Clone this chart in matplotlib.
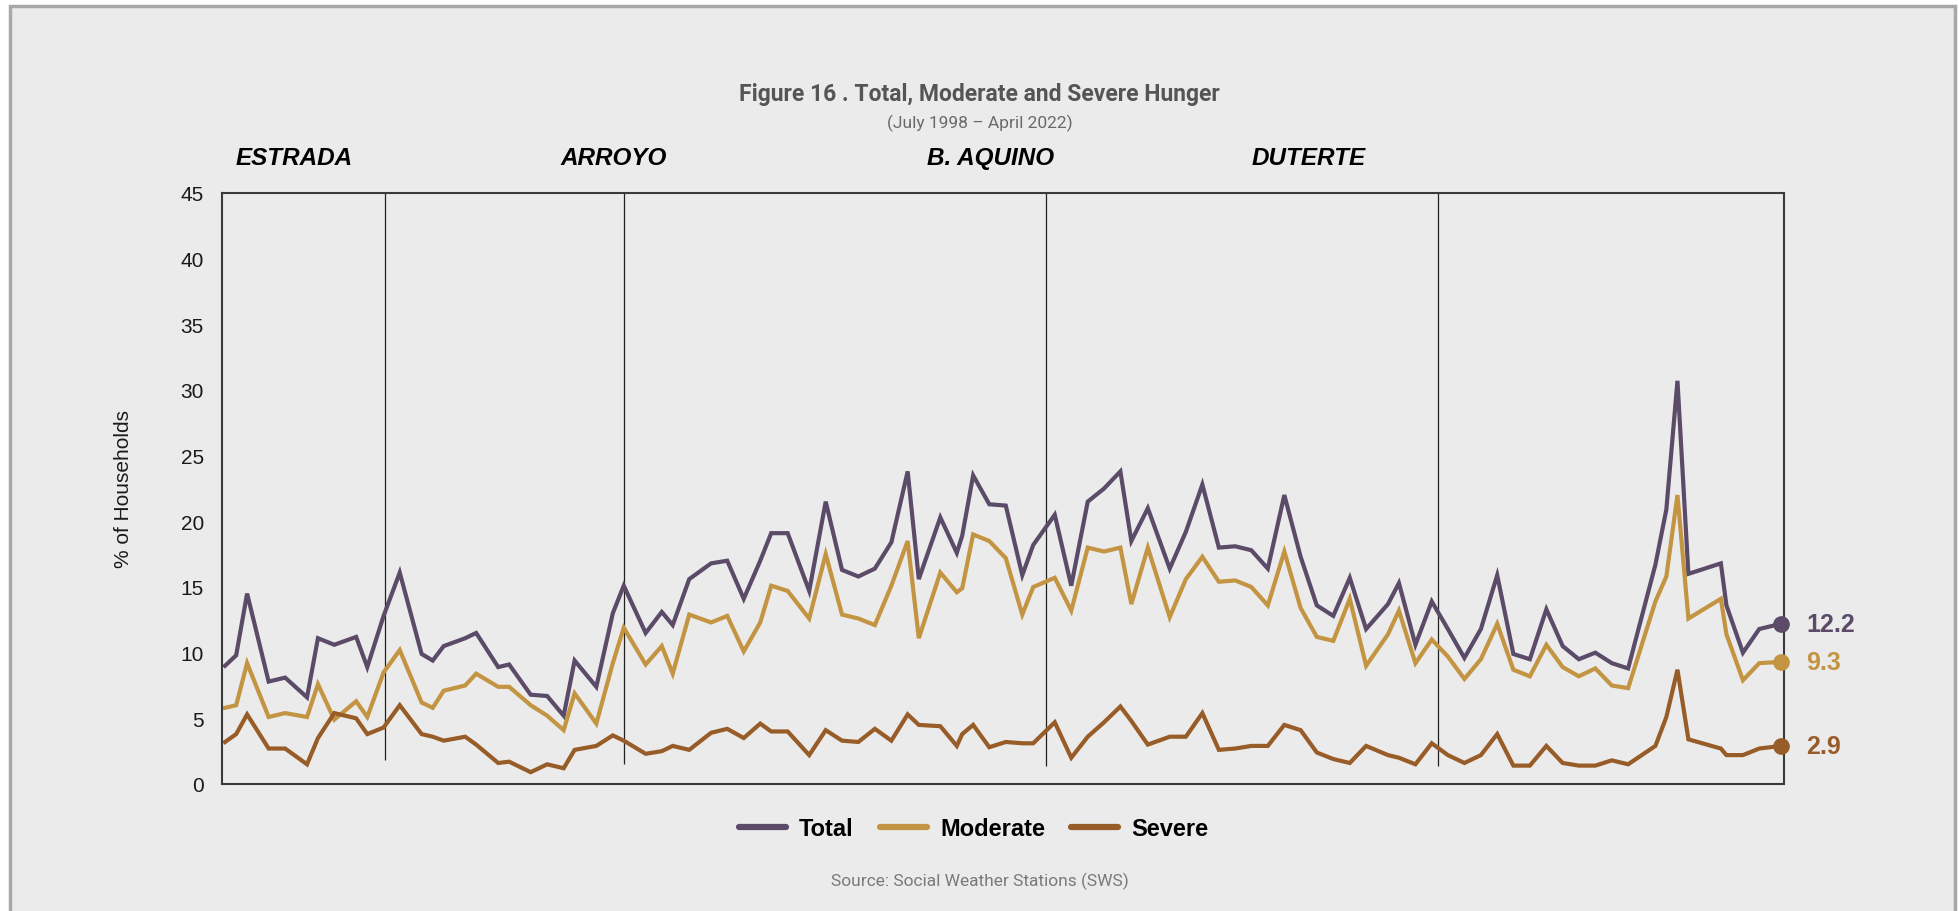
import matplotlib
matplotlib.use('Agg')
import matplotlib.pyplot as plt
from matplotlib.patches import Rectangle
import pandas as pd

# survey months (SWS)
dates = ['1998-07', '1998-09', '1998-11',
         '1999-03', '1999-06', '1999-10', '1999-12',
         '2000-03', '2000-07', '2000-09', '2000-12',
         '2001-03', '2001-07', '2001-09', '2001-11',
         '2002-03', '2002-05', '2002-09', '2002-11',
         '2003-03', '2003-06', '2003-09', '2003-11',
         '2004-03', '2004-06', '2004-08', '2004-12',
         '2005-03', '2005-05', '2005-08', '2005-12',
         '2006-03', '2006-06', '2006-09', '2006-11',
         '2007-02', '2007-06', '2007-09', '2007-12',
         '2008-03', '2008-06', '2008-09', '2008-12',
         '2009-02', '2009-06', '2009-09', '2009-10', '2009-12',
         '2010-03', '2010-06', '2010-09', '2010-11',
         '2011-03', '2011-06', '2011-09', '2011-12',
         '2012-03', '2012-05', '2012-08', '2012-12',
         '2013-03', '2013-06', '2013-09', '2013-12',
         '2014-03', '2014-06', '2014-09', '2014-12',
         '2015-03', '2015-06', '2015-09', '2015-12',
         '2016-04', '2016-06', '2016-09', '2016-12',
         '2017-03', '2017-06', '2017-09', '2017-12',
         '2018-03', '2018-06', '2018-09', '2018-12',
         '2019-03', '2019-06', '2019-09', '2019-12',
         '2020-05', '2020-07', '2020-09', '2020-11',
         '2021-05', '2021-06', '2021-09', '2021-12',
         '2022-04']

total = [9.0, 9.8, 14.5,
         7.8, 8.1, 6.6, 11.1,
         10.6, 11.2, 8.9, 12.8,
         16.1, 9.9, 9.4, 10.5,
         11.1, 11.5, 8.9, 9.1,
         6.8, 6.7, 5.2, 9.4,
         7.4, 13.0, 15.1, 11.5,
         13.1, 12.1, 15.6, 16.8,
         17.0, 14.1, 17.0, 19.1,
         19.1, 14.7, 21.5, 16.3,
         15.8, 16.4, 18.4, 23.8,
         15.6, 20.3, 17.6, 18.9, 23.5,
         21.3, 21.2, 15.9, 18.2,
         20.5, 15.1, 21.5, 22.5,
         23.8, 18.5, 21.0, 16.4,
         19.2, 22.8, 18.0, 18.1,
         17.8, 16.4, 22.0, 17.3,
         13.6, 12.8, 15.7, 11.8,
         13.7, 15.3, 10.6, 13.9,
         11.8, 9.6, 11.8, 15.9,
         9.9, 9.5, 13.3, 10.5,
         9.5, 10.0, 9.2, 8.8,
         16.7, 20.9, 30.7, 16.0,
         16.8, 13.6, 10.0, 11.8,
         12.2]

moderate = [5.8, 6.0, 9.2,
            5.1, 5.4, 5.1, 7.6,
            4.9, 6.3, 5.1, 8.5,
            10.2, 6.2, 5.8, 7.1,
            7.5, 8.4, 7.4, 7.4,
            6.0, 5.2, 4.1, 6.9,
            4.6, 9.2, 11.9, 9.1,
            10.5, 8.4, 12.9, 12.3,
            12.8, 10.1, 12.3, 15.1,
            14.7, 12.6, 17.5, 12.9,
            12.6, 12.1, 15.1, 18.5,
            11.1, 16.1, 14.6, 14.9, 19.0,
            18.5, 17.2, 12.9, 15.0,
            15.7, 13.2, 18.0, 17.7,
            18.0, 13.7, 18.0, 12.7,
            15.6, 17.3, 15.4, 15.5,
            15.0, 13.6, 17.7, 13.4,
            11.2, 10.9, 14.1, 9.0,
            11.4, 13.2, 9.2, 11.0,
            9.7, 8.0, 9.5, 12.2,
            8.7, 8.2, 10.6, 8.9,
            8.2, 8.8, 7.5, 7.3,
            13.9, 15.8, 22.0, 12.6,
            14.1, 11.4, 7.9, 9.2,
            9.3]

severe = [3.2, 3.8, 5.3,
          2.7, 2.7, 1.5, 3.5,
          5.4, 5.0, 3.8, 4.3,
          6.0, 3.8, 3.6, 3.3,
          3.6, 3.0, 1.6, 1.7,
          0.9, 1.5, 1.2, 2.6,
          2.9, 3.7, 3.3, 2.3,
          2.5, 2.9, 2.6, 3.9,
          4.2, 3.5, 4.6, 4.0,
          4.0, 2.2, 4.1, 3.3,
          3.2, 4.2, 3.3, 5.3,
          4.5, 4.4, 2.9, 3.8, 4.5,
          2.8, 3.2, 3.1, 3.1,
          4.7, 2.0, 3.6, 4.7,
          5.9, 4.8, 3.0, 3.6,
          3.6, 5.4, 2.6, 2.7,
          2.9, 2.9, 4.5, 4.1,
          2.4, 1.9, 1.6, 2.9,
          2.2, 2.0, 1.5, 3.1,
          2.2, 1.6, 2.2, 3.8,
          1.4, 1.4, 2.9, 1.6,
          1.4, 1.4, 1.8, 1.5,
          2.9, 5.1, 8.7, 3.4,
          2.7, 2.2, 2.2, 2.7,
          2.9]

# administration boundaries as drawn, and the labels above the plot
term_lines = ['2000-12-10', '2004-08-02', '2011-01-13', '2017-01-05']
term_line_bottom = [1.8, 1.5, 1.4, 1.4]
presidents = ['ESTRADA', 'ARROYO', 'B. AQUINO', 'DUTERTE']
president_x = [0.120, 0.286, 0.473, 0.639]

c_total = '#5b4b69'
c_mod = '#c39442'
c_sev = '#975c27'
bg = '#ebebeb'
helv = ['Liberation Sans', 'DejaVu Sans']
narrow = ['Roboto', 'Liberation Sans', 'DejaVu Sans']

x = pd.to_datetime(dates)

W, H = 1959, 912
fig = plt.figure(figsize=(W / 100, H / 100), dpi=100)
fig.patch.set_facecolor('white')
fig.patches.append(Rectangle((10 / W, -0.02), (1955 - 10) / W, 1.02 - 7 / H,
                             transform=fig.transFigure, facecolor=bg,
                             edgecolor='#a8a8a8', lw=2.5, zorder=-10))

ax = fig.add_axes([222 / W, 1 - 785 / H, (1784 - 222) / W, (785 - 194) / H])
ax.set_facecolor(bg)

ax.plot(x, total, color=c_total, lw=3, label='Total', solid_joinstyle='miter')
ax.plot(x, moderate, color=c_mod, lw=3, label='Moderate', solid_joinstyle='miter')
ax.plot(x, severe, color=c_sev, lw=3, label='Severe', solid_joinstyle='miter')

# end markers and value labels
for vals, col in [(total, c_total), (moderate, c_mod), (severe, c_sev)]:
    ax.plot(x[-1], vals[-1], 'o', ms=11, color=col, clip_on=False, zorder=5)
    ax.annotate(f'{vals[-1]:.1f}', (x[-1], vals[-1]), xytext=(18, 0),
                textcoords='offset points', va='center', ha='left',
                fontsize=18, fontweight='bold', color=col,
                family=helv, annotation_clip=False)

for d, b in zip(pd.to_datetime(term_lines), term_line_bottom):
    ax.vlines(d, b, 45, color='#222222', lw=0.9, zorder=1)

pad = pd.Timedelta(days=17)
ax.set_xlim(x[0] - pad, x[-1] + pad)
ax.set_ylim(0, 45)
ax.set_yticks(range(0, 46, 5))
ax.set_xticks([])
ax.tick_params(axis='y', length=0, pad=13, labelsize=15, labelcolor='#1a1a1a')
for lab in ax.get_yticklabels():
    lab.set_family(helv)
for s in ax.spines.values():
    s.set_color('#3a3a3a')
    s.set_linewidth(1.5)

ax.set_ylabel('% of Households', fontsize=15, color='#1a1a1a', family=helv)
ax.yaxis.set_label_coords(-0.057, 0.5)

for name, px in zip(presidents, president_x):
    fig.text(px, 0.826, name, fontsize=17.5, fontweight='bold', style='italic',
             family=helv, va='center', ha='left')

fig.text(0.5, 1 - 94 / H, 'Figure 16 . Total, Moderate and Severe Hunger',
         fontsize=16.5, fontweight='bold', color='#555555', ha='center', va='center',
         family=narrow)
fig.text(0.5, 1 - 123 / H, '(July 1998 \u2013 April 2022)', fontsize=12.5,
         color='#6a6a6a', ha='center', va='center', family=narrow)
fig.text(0.5, 1 - 881 / H, 'Source: Social Weather Stations (SWS)', fontsize=12.5,
         color='#7a7a7a', ha='center', va='center', family=narrow)

leg = fig.legend(loc='center', bbox_to_anchor=(0.497, 1 - 830 / H), ncol=3,
                 frameon=False, handlelength=2.0, handletextpad=0.55,
                 columnspacing=1.1,
                 prop={'family': helv, 'weight': 'bold', 'size': 17})
for h in leg.legend_handles:
    h.set_linewidth(4.5)
    h.set_solid_capstyle('round')

fig.savefig('out.png', dpi=100, facecolor=fig.get_facecolor())
